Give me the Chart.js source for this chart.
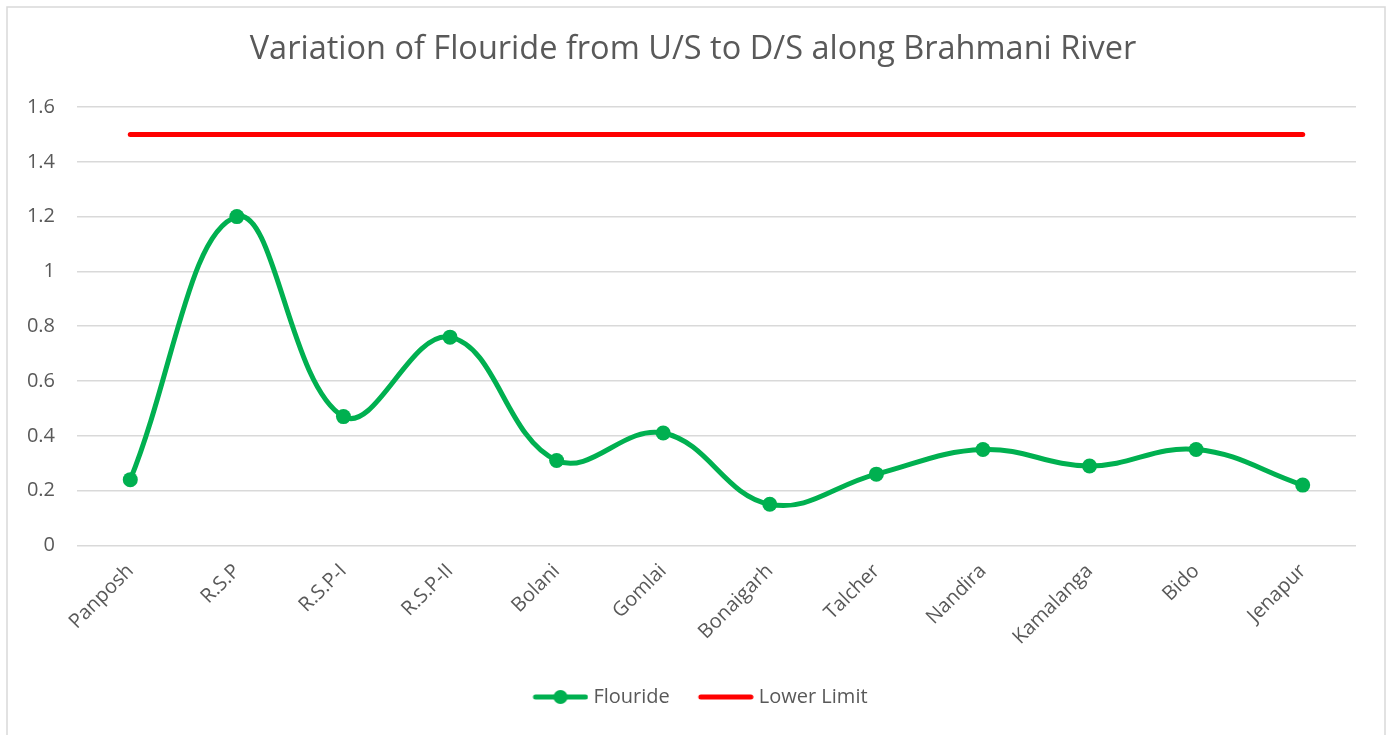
<!DOCTYPE html>
<html>
<head>
<meta charset="utf-8">
<script src="https://cdn.jsdelivr.net/npm/chart.js@4"></script>
<style>
  html, body { margin: 0; padding: 0; background: #fff; }
  #wrap { position: relative; width: 1386px; height: 735px; }
</style>
</head>
<body>
<div id="wrap"><canvas id="chart" width="1386" height="735"></canvas></div>
<script>
const categories = ["Panposh", "R.S.P", "R.S.P-I", "R.S.P-II", "Bolani", "Gomlai", "Bonaigarh", "Talcher", "Nandira", "Kamalanga", "Bido", "Jenapur"];
const flouride = [0.24, 1.2, 0.47, 0.76, 0.31, 0.41, 0.15, 0.26, 0.35, 0.29, 0.35, 0.22];
const lowerLimit = [1.5, 1.5, 1.5, 1.5, 1.5, 1.5, 1.5, 1.5, 1.5, 1.5, 1.5, 1.5];

const green = "#00b050";
const red = "#ff0000";
const textColor = "#595959";
const font = "'Open Sans', sans-serif";

// legend marker images: a 56px line (with a dot for Flouride), left blank space keeps the item gap
function marker(color, dot) {
  const c = document.createElement("canvas");
  c.width = 75; c.height = 18;
  const g = c.getContext("2d");
  g.strokeStyle = color;
  g.lineWidth = 5;
  g.lineCap = "round";
  g.beginPath(); g.moveTo(22, 9); g.lineTo(72, 9); g.stroke();
  if (dot) {
    g.fillStyle = color;
    g.beginPath(); g.arc(47, 9, 7, 0, Math.PI * 2); g.fill();
  }
  return c;
}
const markers = [marker(green, true), marker(red, false)];

const borderPlugin = {
  id: "frame",
  beforeDraw(chart) {
    const ctx = chart.ctx;
    ctx.save();
    ctx.fillStyle = "#fff";
    ctx.fillRect(0, 0, chart.width, chart.height);
    ctx.strokeStyle = "#d9d9d9";
    ctx.lineWidth = 1.5;
    ctx.strokeRect(7, 7, 1378, 740);
    ctx.restore();
  }
};

new Chart(document.getElementById("chart"), {
  type: "line",
  data: {
    labels: categories,
    datasets: [
      {
        label: "Flouride",
        data: flouride,
        borderColor: green,
        backgroundColor: green,
        borderWidth: 5,
        tension: 0.4,
        pointRadius: 7.5,
        pointHoverRadius: 7.5,
        pointBackgroundColor: green,
        pointBorderWidth: 0
      },
      {
        label: "Lower Limit",
        data: lowerLimit,
        borderColor: red,
        backgroundColor: red,
        borderWidth: 5,
        borderCapStyle: "round",
        pointRadius: 0,
        tension: 0
      }
    ]
  },
  options: {
    responsive: false,
    animation: false,
    layout: { padding: { left: 0, right: 0, top: 0, bottom: 18 } },
    plugins: {
      title: {
        display: true,
        text: "Variation of Flouride from U/S to D/S along Brahmani River",
        color: textColor,
        font: { family: font, size: 32.5, weight: "normal" },
        padding: { top: 30, bottom: 38 }
      },
      legend: {
        position: "bottom",
        labels: {
          color: textColor,
          font: { family: font, size: 20 },
          usePointStyle: true,
          pointStyleWidth: 65,
          padding: 14,
          generateLabels(chart) {
            return chart.data.datasets.map((ds, i) => ({
              text: ds.label,
              pointStyle: markers[i],
              fontColor: textColor,
              datasetIndex: i,
              hidden: false,
              lineWidth: 0
            }));
          }
        }
      },
      tooltip: { enabled: false }
    },
    scales: {
      x: {
        offset: true,
        grid: { display: false },
        border: { display: false },
        ticks: {
          color: textColor,
          font: { family: font, size: 20 },
          minRotation: 45,
          maxRotation: 45,
          padding: 6
        },
        afterFit(scale) { scale.height = 127.6; }
      },
      y: {
        min: 0,
        max: 1.6,
        grid: { color: "#d9d9d9", lineWidth: 1.5, drawTicks: false },
        border: { display: false },
        ticks: {
          stepSize: 0.2,
          color: textColor,
          font: { family: font, size: 20 },
          padding: 22,
          callback: v => String(Number(v.toFixed(1)))
        },
        afterFit(scale) { scale.width = 77; }
      },
      // empty right-hand axis, only reserves the right margin of the plot
      yRight: {
        position: "right",
        min: 0,
        max: 1.6,
        grid: { display: false },
        border: { display: false },
        ticks: { display: false },
        afterFit(scale) { scale.width = 30; }
      }
    }
  },
  plugins: [borderPlugin]
});
</script>
</body>
</html>
